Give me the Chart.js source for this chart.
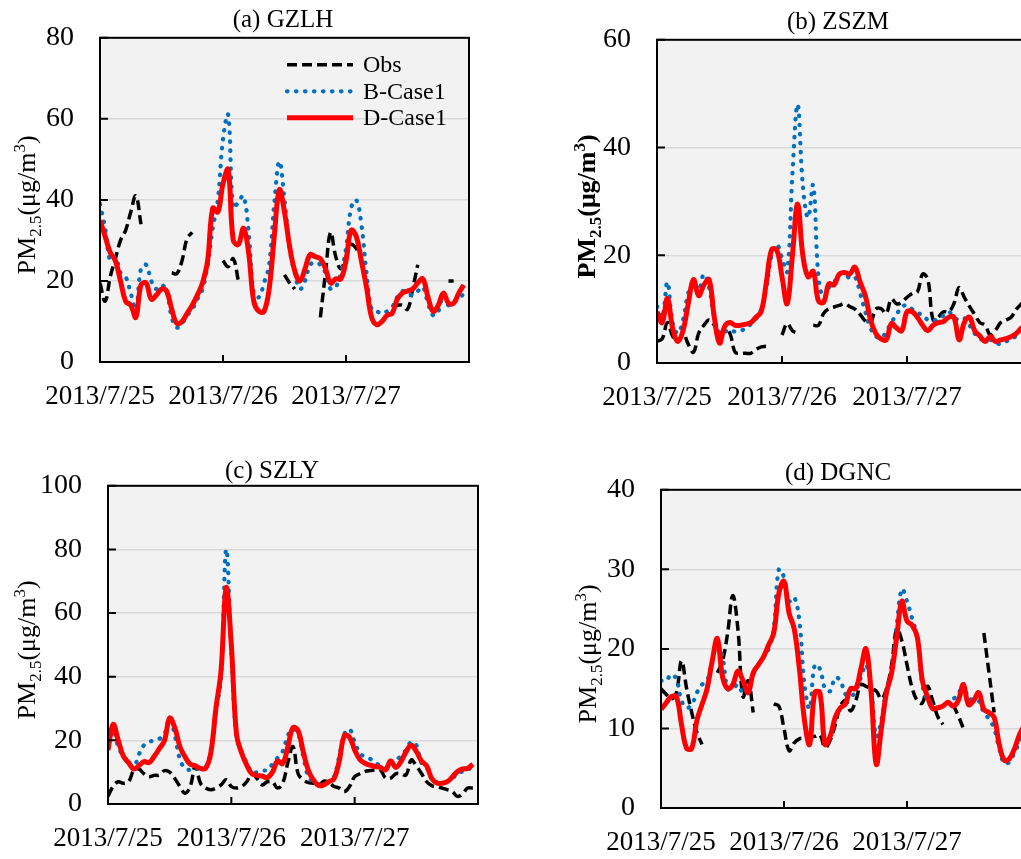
<!DOCTYPE html>
<html>
<head>
<meta charset="utf-8">
<title>PM2.5 Obs vs B-Case1 / D-Case1</title>
<script src="https://cdn.jsdelivr.net/npm/chart.js@4.4.1/dist/chart.umd.min.js"></script>
<style>
    html, body { margin: 0; padding: 0; background: #fff; overflow: hidden; }
    body { width: 1021px; height: 859px; position: relative; }
    .panel { position: absolute; }
</style>
</head>
<body>
<div class="panel" id="wrap_a"><canvas id="chart_a"></canvas></div>
<div class="panel" id="wrap_b"><canvas id="chart_b"></canvas></div>
<div class="panel" id="wrap_c"><canvas id="chart_c"></canvas></div>
<div class="panel" id="wrap_d"><canvas id="chart_d"></canvas></div>
<script>
// hours since 2013/7/25 00:00, one value per hour
const hours = Array.from({length: 72}, (_, i) => i);
const dayLabels = ['2013/7/25', '2013/7/26', '2013/7/27'];
const seriesNames = ['Obs', 'B-Case1', 'D-Case1'];

// (a) GZLH
const obsA = [19.5, 15, 21, 25.5, 30, 32.5, 37, 41, 34, null, null, null, null, null,
    22, 21.8, 25, 30.5, 32, null, null, null, null, null,
    25, 23.5, 25.5, 20, null, null, null, null, null, null, null, null,
    21.5, 19.5, 18, null, null, null, null,
    11, 22, 32, 26, 23, 26, 29, 28, 26, null, null, null, null, null,
    14, 14, 14, 13, 18, 24, null, null, null, null, null,
    20, 20, null, null];
const bCaseA = [39, 33, 25, 26, 22, 21, 17, 13, 23, 24, 20, 18, 19, 17.5, 11, 8.5, 9.5, 11.5, 13, 15.5,
    18, 24, 33, 40, 55, 61, 38, 39.5, 41, 32, 17, 16, 19.5, 24, 39, 49.5, 40, 28, 22, 18,
    20, 24, 24.5, 24, 22, 18, 18.5, 22, 28, 38, 40, 34, 22, 13, 12.5, 12, 12.5, 13.5, 16, 17.5,
    17, 16.5, 17.5, 18.5, 14.5, 11.5, 12.5, 16.5, 14, 15, 15.5, 17];
const dCaseA = [35, 31, 27, 25, 20, 15, 14, 11, 19, 19.5, 15.5, 16.5, 18, 17.5, 13, 9.5, 10, 12, 14, 16.5,
    19.5, 25, 38, 37, 44, 47.5, 30, 29, 33, 27, 15, 12.5, 12.5, 18, 31, 42.5, 37, 28.5, 22.5, 20,
    23, 26.5, 26, 25.5, 23, 19.5, 20.5, 20.5, 25, 32.5, 31, 25, 18.5, 11, 9.2, 10, 11.5, 12, 15.5, 17,
    17.5, 18, 19.5, 20.5, 16, 12.5, 14, 17, 14.5, 14.5, 17, 19];

// (b) ZSZM
const obsB = [4, 4.5, 7.5, 5, 4, 5.5, 3.5, 2, 5.5, 7, 8, 7, 5, 6.5, 5.5, 2, 1.8, 1.8, 1.8, 2.5, 3, 3.1,
    null, null, 5.2, 7.3, 6, 5.5, null, null,
    7, 7, 9.2, 10.1, 10.4, 10.7, 11, 10.5, 10, 9, 7.8, 7.5, 10, 10.1, 9.2, 11.9, 11, 11.3, 12.2, 12.9,
    13.2, 16.5, 15.5, 8, 8.5, 9.5, 9.5, 11, 14, 12.2, 10.5, 9, 7.5, 7, 5.2, 6.1, 7.5, 8, 8.5, 10, 11, 12];
const bCaseB = [10.5, 8.5, 15, 7.5, 5.5, 8, 13, 15, 13.5, 16.5, 14, 8.5, 5.5, 5.8, 6.2, 5.8, 6, 6.4, 7.2, 8.2,
    10, 14, 20, 22, 19.5, 17, 35, 48, 33, 27, 33, 16, 12.2, 14, 15, 16.5, 16.5, 15.8, 16, 13,
    9.5, 6.5, 5, 4.6, 5.8, 7.5, 9, 10.4, 10.7, 10, 9.3, 8.9, 8, 7.8, 8.3, 8.8, 9.5, 8.5, 8, 8.3,
    7, 5.5, 4.5, 4.3, 4.3, 3.8, 3.5, 4, 4.5, 5, 5.5, 6];
const dCaseB = [9.5, 7.5, 12, 6.5, 4, 6, 11, 15.5, 12.5, 14.5, 15.5, 8.5, 3.7, 6.8, 7.5, 7, 7, 7.2, 7.5, 8.5,
    9.5, 15, 21, 21, 16, 11, 20, 29.5, 20, 16, 17, 11.5, 11.3, 14.7, 14.5, 16.5, 16.8, 16.5, 17.8, 15,
    12.5, 8, 5.5, 4.5, 4.3, 7.3, 6.5, 6, 9.5, 9.5, 8.5, 7, 6, 7, 7.5, 7.7, 8.5, 8.5, 4.3, 7.5,
    8.5, 6, 5, 4, 4.9, 4, 4.3, 4.5, 4.9, 5.5, 6.5, 7];

// (c) SZLY
const obsC = [2.4, 5.5, 7, 6.5, 7, 10.5, 11, 9.5, 8.6, 9, 9.1, 10.5, 10, 8, 5.5, 3.4, 5.5, 12, 6.5, 5,
    4.5, 5, 6, 7.6, 5.5, 5, 5.5, 7, 9.6, 8, 6, 7, 7, 5, 6.5, 13, 18, 9.5, 7.6, 6.7,
    6.5, 5.8, 7.2, 6.8, 5.5, 5, 3.9, 5.5, 8.6, 9.5, 10.2, 10.5, 10.7, 10.7, 8.2, 8.1, 9.5, 9.5, 9.1, 13.8,
    12, 9.6, 7, 5.8, 5.5, 5, 4.5, 3.9, 2.4, 3.2, 5, 5];
const bCaseC = [19, 23, 18, 15, 13.3, 11.5, 15.5, 18.5, 19.5, 20, 20.5, 22, 27, 21.5, 14, 11.2, 10.7, 11, 11.2, 11.5,
    17, 29, 40, 80, 48, 21, 16.5, 13, 10, 10, 10.5, 10.7, 12.5, 14.5, 16.5, 21.5, 23.6, 22, 15, 8.5,
    7, 6.2, 6.3, 7, 8.5, 15, 22, 23.5, 19.5, 16, 14.8, 14.2, 13, 12, 11.2, 13.5, 14, 15, 17, 19.5,
    18.5, 13, 11.5, 8, 6.8, 6.5, 7, 8, 9.5, 10.2, 10.5, 13];
const dCaseC = [17, 25, 20, 15, 13, 11, 12, 13.3, 13, 15, 17.4, 20, 27, 24, 18, 14.8, 12.5, 12, 11.2, 11.2,
    16, 30, 42, 68, 50, 22, 16, 12.2, 9.5, 9, 8.8, 8.3, 10, 13.5, 12.7, 18, 24, 23, 16.4, 10.5,
    7.5, 5.8, 6, 7, 8, 13.5, 21.5, 21, 17, 14, 12.8, 12.2, 11.8, 11.5, 10.7, 13.5, 11.5, 13.3, 16.4, 18.5,
    16.5, 13.5, 12, 8, 6.6, 6.5, 7, 8.5, 10.2, 11, 11.2, 12.5];

// (d) DGNC
const obsD = [15, 14.3, 13.7, 14.5, 18.5, 15, 12, 9.5, 8, null, null,
    17, 18.5, 22, 26.7, 22.5, 14, 16, 12, null, null, null,
    13.1, 12.8, 10, 7.2, 8.2, 8.7, 8.8, 8.9, 9, 9.2, 7.6, 8.5, 10.5, 12.8, 13.5, 12.2, 13.5, 15.5,
    15.3, 15, 14.7, 13.7, 15, 18, 22.5, 21, 18, 15.1, 13.5, 13.2, 15.3, 13.5, 11.5, 10.5,
    null, 13, 11.6, 10, null, null, null, 22, 17, 12, null, null, null, null, null, null];
const bCaseD = [16, 16, 16.8, 16.2, 13.5, 12.6, 13, 14.5, 15.5, 16, 18.5, 20.5, 19, 15, 15, 15.5, 14.5, 15, 16.8, 18,
    19, 20, 22.6, 30, 29, 26, 26.5, 23.5, 15.5, 12.5, 18, 17.5, 15, 14.7, 16.4, 16, 14.3, 14, 14.7, 16.4,
    18, 15, 9, 11, 15, 17, 23, 27.5, 26, 23.8, 21.5, 15.5, 13.5, 13, 12.6, 12.9, 13.3, 13.7, 14.3, 15.6,
    13.7, 13.7, 13.5, 12, 11.2, 10, 7.5, 5.6, 5.8, 7, 8.3, 9.5];
const dCaseD = [12.4, 13.2, 14, 14, 10.5, 7.5, 7.5, 11, 13, 15, 18.5, 21.3, 16.5, 15, 15.5, 17.2, 16, 14.5, 17, 18,
    19, 20.5, 22, 27, 28.5, 24.5, 22.5, 17.5, 11, 8, 14.5, 14.5, 8, 9, 11.4, 12.6, 13.1, 15, 15, 17.5,
    20, 14.5, 5.5, 10, 14.5, 17, 21.5, 26, 23.5, 23, 21.5, 16, 14, 12.5, 12.6, 12.8, 13.3, 12.8, 13.5, 15.5,
    13, 13.5, 14.5, 12.4, 12, 11.4, 8, 6, 6.2, 7.5, 9.3, 10.5];

const FONT = '"Liberation Serif", "Times New Roman", serif';
const X_TICK_PAD = 11;

// plot boxes in page pixels: [left, top, right, bottom]
const panels = [
    {id: 'a', box: [100, 35, 469, 362], yMax: 80, yStep: 20, title: '(a) GZLH', titleAt: [283, 20], yTitleX: 26, bold: false, legend: true, obs: obsA, bCase: bCaseA, dCase: dCaseA},
    {id: 'b', box: [657, 37, 1032, 363], yMax: 60, yStep: 20, title: '(b) ZSZM', titleAt: [838, 22], yTitleX: 586, bold: true, legend: false, obs: obsB, bCase: bCaseB, dCase: dCaseB},
    {id: 'c', box: [108, 483, 478, 804], yMax: 100, yStep: 20, title: '(c) SZLY', titleAt: [272, 471], yTitleX: 26, bold: false, legend: false, obs: obsC, bCase: bCaseC, dCase: dCaseC},
    {id: 'd', box: [661, 487, 1030, 808], yMax: 40, yStep: 10, title: '(d) DGNC', titleAt: [838, 473], yTitleX: 587, bold: false, legend: false, obs: obsD, bCase: bCaseD, dCase: dCaseD}
];

function drawYTitle(ctx, cx, cy, bold) {
    var w = bold ? 'bold ' : '';
    var big = w + '26px ' + FONT;
    var small = w + '17px ' + FONT;
    var parts = [['PM', big, 0], ['2.5', small, 6], ['(\u03bcg/m', big, 0], ['3', small, -10], [')', big, 0]];
    ctx.save();
    ctx.translate(cx, cy);
    ctx.rotate(-Math.PI / 2);
    ctx.fillStyle = '#000';
    ctx.textBaseline = 'alphabetic';
    ctx.textAlign = 'left';
    var total = 0;
    parts.forEach(function(p) { ctx.font = p[1]; total += ctx.measureText(p[0]).width; });
    var x = -total / 2;
    parts.forEach(function(p) {
        ctx.font = p[1];
        ctx.fillText(p[0], x, 9 + p[2]);
        x += ctx.measureText(p[0]).width;
    });
    ctx.restore();
}

const panelDecor = {
    id: 'panelDecor',
    beforeDraw: function(chart) {
        var ctx = chart.ctx, a = chart.chartArea;
        ctx.save();
        ctx.fillStyle = '#f2f2f2';
        ctx.fillRect(a.left, a.top, a.right - a.left, a.bottom - a.top);
        ctx.restore();
    },
    afterDatasetsDraw: function(chart) {
        var ctx = chart.ctx, a = chart.chartArea, xs = chart.scales.x, ys = chart.scales.y;
        ctx.save();
        ctx.strokeStyle = '#000';
        ctx.lineWidth = 2;
        ctx.beginPath();
        ys.ticks.forEach(function(t) {
            var py = ys.getPixelForValue(t.value);
            ctx.moveTo(a.left, py);
            ctx.lineTo(a.left + 8, py);
        });
        xs.ticks.forEach(function(t) {
            var px = xs.getPixelForValue(t.value);
            ctx.moveTo(px, a.bottom);
            ctx.lineTo(px, a.bottom - 7);
        });
        ctx.stroke();
        ctx.strokeRect(a.left, a.top, a.right - a.left, a.bottom - a.top);
        ctx.restore();
    },
    afterDraw: function(chart, args, opts) {
        var ctx = chart.ctx, a = chart.chartArea;
        ctx.save();
        ctx.fillStyle = '#000';
        ctx.font = '25px ' + FONT;
        ctx.textAlign = 'center';
        ctx.textBaseline = 'middle';
        ctx.fillText(opts.title, opts.titleX, opts.titleY);
        ctx.restore();

        drawYTitle(ctx, opts.yTitleX, (a.top + a.bottom) / 2 + 5, opts.bold);

        if (opts.legend) {
            seriesNames.forEach(function(name, i) {
                var ds = chart.data.datasets.find(function(d) { return d.label === name; });
                var y = a.top + 27 + i * 26.5;
                var x0 = a.left + 187, x1 = a.left + 253;
                ctx.save();
                ctx.strokeStyle = ds.borderColor;
                ctx.lineWidth = ds.borderWidth;
                ctx.lineCap = ds.borderCapStyle || 'butt';
                ctx.setLineDash(ds.borderDash || []);
                ctx.beginPath();
                ctx.moveTo(x0, y);
                ctx.lineTo(x1, y);
                ctx.stroke();
                ctx.setLineDash([]);
                ctx.fillStyle = '#000';
                ctx.font = '24px ' + FONT;
                ctx.textAlign = 'left';
                ctx.textBaseline = 'middle';
                ctx.fillText(name, x1 + 10, y + 1);
                ctx.restore();
            });
        }
    }
};

function makeDatasets(obs, bCase, dCase) {
    return [{
        label: seriesNames[0],
        data: obs,
        borderColor: '#000000',
        borderWidth: 3.5,
        borderDash: [10, 5],
        order: 2
    }, {
        label: seriesNames[1],
        data: bCase,
        borderColor: '#0070c0',
        borderWidth: 4.2,
        borderDash: [0.5, 8.5],
        borderCapStyle: 'round',
        order: 1
    }, {
        label: seriesNames[2],
        data: dCase,
        borderColor: '#ff0000',
        borderWidth: 5,
        order: 0
    }].map(function(d) {
        return Object.assign({pointRadius: 0, tension: 0.4, fill: false, spanGaps: false}, d);
    });
}

panels.forEach(function(p) {
    var L = p.box[0], T = p.box[1], R = p.box[2], B = p.box[3];
    var left = L - 100, top = T - 40;
    // the x scale keeps ticks.padding free on the right of the plot
    var width = R - L + 100 + X_TICK_PAD, height = B - T + 100;
    var wrap = document.getElementById('wrap_' + p.id);
    wrap.style.left = left + 'px';
    wrap.style.top = top + 'px';
    var canvas = document.getElementById('chart_' + p.id);
    canvas.width = width;
    canvas.height = height;

    new Chart(canvas, {
        type: 'line',
        data: {
            labels: hours,
            datasets: makeDatasets(p.obs, p.bCase, p.dCase)
        },
        options: {
            responsive: false,
            animation: false,
            events: [],
            layout: {padding: {left: 0, top: 40, right: 0, bottom: 0}},
            plugins: {
                legend: {display: false},
                tooltip: {enabled: false},
                panelDecor: {
                    title: p.title,
                    titleX: p.titleAt[0] - left,
                    titleY: p.titleAt[1] - top,
                    yTitleX: p.yTitleX - left,
                    bold: p.bold,
                    legend: p.legend
                }
            },
            scales: {
                x: {
                    type: 'linear',
                    min: 0,
                    max: 72,
                    afterFit: function(s) { s.height = 60; },
                    grid: {display: false},
                    border: {display: false},
                    ticks: {
                        stepSize: 24,
                        autoSkip: false,
                        maxRotation: 0,
                        padding: X_TICK_PAD,
                        color: '#000',
                        font: {family: FONT, size: 27},
                        callback: function(v) { return dayLabels[v / 24] || ''; }
                    }
                },
                y: {
                    min: 0,
                    max: p.yMax,
                    afterFit: function(s) { s.width = 100; },
                    grid: {color: '#d9d9d9', lineWidth: 1.5, drawTicks: false},
                    border: {display: false},
                    ticks: {
                        stepSize: p.yStep,
                        padding: 26,
                        color: '#000',
                        font: {family: FONT, size: 28}
                    }
                }
            }
        },
        plugins: [panelDecor]
    });
});
</script>
</body>
</html>
